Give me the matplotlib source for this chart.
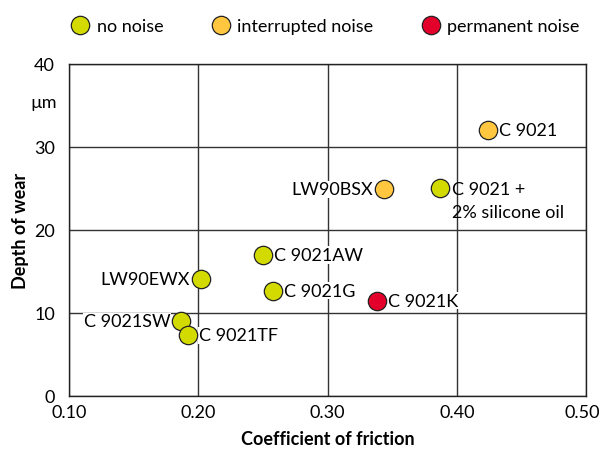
import matplotlib
matplotlib.use("Agg")
import matplotlib.pyplot as plt
import matplotlib.transforms as mtransforms

plt.rcParams["font.family"] = ["Lato", "DejaVu Sans"]

# ---- data ----
names = ["C 9021", "LW90BSX", "C 9021 +\n2% silicone oil", "C 9021AW", "LW90EWX",
         "C 9021G", "C 9021K", "C 9021SW", "C 9021TF"]
friction = [0.424, 0.344, 0.387, 0.250, 0.202, 0.258, 0.338, 0.187, 0.192]
wear = [32.1, 24.9, 25.1, 17.0, 14.1, 12.7, 11.5, 9.0, 7.3]
noise = ["interrupted", "interrupted", "none", "none", "none",
         "none", "permanent", "none", "none"]
label_side = ["right", "left", "right", "right", "left",
              "right", "right", "left", "right"]

categories = ["none", "interrupted", "permanent"]
cat_labels = ["no noise", "interrupted noise", "permanent noise"]
cat_colors = ["#D2DA00", "#FFC740", "#E3002B"]

xticks = [0.10, 0.20, 0.30, 0.40, 0.50]
yticks = [0, 10, 20, 30, 40]

FS = 13

fig = plt.figure(figsize=(5.99, 4.52), dpi=100)
ax = fig.add_axes([69 / 599, 1 - 397 / 452, 517 / 599, 332 / 452])

handles = []
for cat, lab, col in zip(categories, cat_labels, cat_colors):
    xs = [x for x, c in zip(friction, noise) if c == cat]
    ys = [y for y, c in zip(wear, noise) if c == cat]
    h = ax.scatter(xs, ys, s=175, color=col, edgecolor="#222222", linewidth=0.9,
                   zorder=4, label=lab)
    handles.append(h)

for n, x, y, side in zip(names, friction, wear, label_side):
    if "\n" in n:
        ax.annotate(n, (x, y), xytext=(9, 5), textcoords="offset points",
                    ha="left", va="top", fontsize=FS, linespacing=1.55, zorder=3)
    elif side == "right":
        ax.annotate(n, (x, y), xytext=(8, 0), textcoords="offset points",
                    ha="left", va="center", fontsize=FS, zorder=3,
                    bbox=dict(fc="white", ec="none", pad=0.5))
    else:
        ax.annotate(n, (x, y), xytext=(-8, 0), textcoords="offset points",
                    ha="right", va="center", fontsize=FS, zorder=3,
                    bbox=dict(fc="white", ec="none", pad=0.5))

ax.set_xlim(0.10, 0.50)
ax.set_ylim(0, 40)
ax.set_xticks(xticks)
ax.set_xticklabels([f"{t:.2f}" for t in xticks])
ax.set_yticks(yticks)
ax.tick_params(length=0, labelsize=FS, pad=6)
ax.tick_params(axis="y", pad=10)
ax.grid(True, color="#333333", lw=1.0, zorder=1)
ax.set_axisbelow(True)
for sp in ax.spines.values():
    sp.set_color("#222222")
    sp.set_linewidth(1.0)

# keep the last x tick label inside the canvas
last = ax.get_xticklabels()[-1]
last.set_transform(last.get_transform() +
                   mtransforms.ScaledTranslation(-4 / 100, 0, fig.dpi_scale_trans))

trans = mtransforms.blended_transform_factory(ax.transAxes, ax.transData)
ax.text(-0.023, 35.4, "µm", transform=trans, ha="right", va="center", fontsize=FS)

ax.set_xlabel("Coefficient of friction", fontsize=FS, fontweight="bold", labelpad=7)
ax.set_ylabel("Depth of wear", fontsize=FS, fontweight="bold", labelpad=4)

fig.legend(handles=handles, loc="upper left", bbox_to_anchor=(0.092, 0.99), ncol=3,
           frameon=False, fontsize=FS, handlelength=1.2, handletextpad=0.3,
           columnspacing=2.6, scatteryoffsets=[0.5], borderaxespad=0.4)

fig.savefig("out.png", dpi=100)
